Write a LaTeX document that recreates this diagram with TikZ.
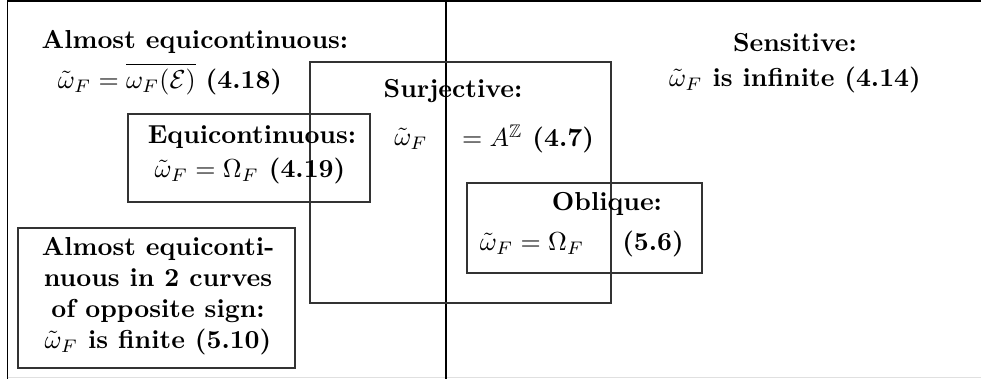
\documentclass[tikz,border=0pt]{standalone}
\usepackage{amssymb}
\begin{document}
\begin{tikzpicture}[x=0.3846pt,y=-0.3846pt,
  txt/.style={inner sep=0pt,anchor=center,font=\bfseries},
  boxline/.style={draw=black!80,line width=0.4pt},
  frameline/.style={draw=black,line width=0.6pt}]
\useasboundingbox (0,0) rectangle (981,379);
% frame
\draw[frameline] (981,1) -- (7.5,1) -- (7.5,379);
\draw[draw=black!12,line width=0.6pt] (7.5,377.5) -- (981,377.5);
\draw[frameline] (446,0) -- (446,379);
% boxes
\draw[boxline] (310,62) rectangle (611,303);
\draw[boxline] (128,114) rectangle (370,202);
\draw[boxline] (467,183) rectangle (702,273);
\draw[boxline] (18,228) rectangle (295,368);
% texts
\node[txt] (ae1) at (195,42) {Almost equicontinuous:};
\node[txt] (ae2) at (170,79) {$\tilde\omega_F=\overline{\omega_F(\mathcal{E})}$ (4.18)};
\node[txt] (se1) at (795,43) {Sensitive:};
\node[txt] (se2) at (795,80) {$\tilde\omega_F$ is infinite (4.14)};
\node[txt] (su1) at (453,91) {Surjective:};
\node[txt] (su2) at (411,139) {$\tilde\omega_F$};
\node[txt] (su3) at (528,139) {$=A^{\mathbb{Z}}$ (4.7)};
\node[txt] (eq1) at (252,137) {Equicontinuous:};
\node[txt] (eq2) at (250,171) {$\tilde\omega_F=\Omega_F$ (4.19)};
\node[txt] (ob1) at (607,204) {Oblique:};
\node[txt] (ob2) at (532,244) {$\tilde\omega_F=\Omega_F$};
\node[txt] (ob3) at (653,244) {(5.6)};
\node[txt,align=center] (ac) at (158,296) {Almost equiconti-\\nuous in 2 curves\\of opposite sign:\\$\tilde\omega_F$ is finite (5.10)};
\end{tikzpicture}
\end{document}
